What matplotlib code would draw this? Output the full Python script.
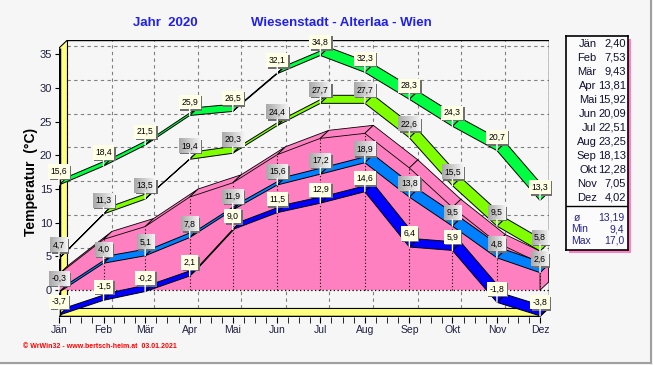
"""Jahresübersicht Temperatur - Wiesenstadt Alterlaa 2020 (3D-Bänder im WeWin32-Stil)"""

import numpy as np
import matplotlib.pyplot as plt
from matplotlib.patches import Polygon, Rectangle
from matplotlib.lines import Line2D

plt.rcParams['font.family'] = ['Liberation Sans', 'DejaVu Sans']

months = ['Jän', 'Feb', 'Mär', 'Apr', 'Mai', 'Jun', 'Jul', 'Aug', 'Sep', 'Okt', 'Nov', 'Dez']
days_in_month = [31, 29, 31, 30, 31, 30, 31, 31, 30, 31, 30, 31]

abs_max = [15.6, 18.4, 21.5, 25.9, 26.5, 32.1, 34.8, 32.3, 28.3, 24.3, 20.7, 13.3]
mean_max = [4.7, 11.3, 13.5, 19.4, 20.3, 24.4, 27.7, 27.7, 22.6, 15.5, 9.5, 5.8]
mean_temp = [2.40, 7.53, 9.43, 13.81, 15.92, 20.09, 22.51, 23.25, 18.13, 12.28, 7.05, 4.02]
mean_min = [-0.3, 4.0, 5.1, 7.8, 11.9, 15.6, 17.2, 18.9, 13.8, 9.5, 4.8, 2.6]
abs_min = [-3.7, -1.5, -0.2, 2.1, 9.0, 11.5, 12.9, 14.6, 6.4, 5.9, -1.8, -3.8]

stat_names = ['ø', 'Min', 'Max']
stat_values = [13.19, 9.4, 17.0]
stat_decimals = [2, 1, 1]

BG = '#f6f6f6'
W, H = 653, 365


def de(v, nd=1):
    return f'{v:.{nd}f}'.replace('.', ',')


def px_rect(l, t, r, b):
    return [l / W, 1 - b / H, (r - l) / W, (b - t) / H]


fig = plt.figure(figsize=(W / 100, H / 100), dpi=100, facecolor=BG)

x = np.concatenate([[0], np.cumsum(days_in_month)[:-1]])
x_end = x[-1]
DX, DY = 5.9, 1.19      # 3D-Tiefe (Tage, Grad)
Y0, Y1 = -3.9, 35.9

ax = fig.add_axes(px_rect(59, 40, 548.5, 316.5))
ax.set_facecolor('none')
for s in ax.spines.values():
    s.set_visible(False)

# Rückwand-Gitter
grid = dict(color='#808080', lw=0.8, ls=(0, (3, 3)), zorder=1)
for v in range(0, 36, 5):
    ax.plot([DX, x_end + DX], [v + DY, v + DY], **grid)
    ax.plot([0, DX], [v, v + DY], **grid)
for xi in x:
    ax.plot([xi + DX, xi + DX], [Y0 + DY, Y1 + DY], **grid)
ax.plot([DX, x_end + DX, x_end + DX], [Y1 + DY, Y1 + DY, Y0 + DY], c='k', lw=1, zorder=2)

# linke Wand und Boden
ax.add_patch(Polygon([(0, Y0), (DX, Y0 + DY), (DX, Y1 + DY), (0, Y1)],
                     fc='#ffff80', ec='k', lw=0.8, zorder=1.5))
ax.add_patch(Polygon([(0, Y0), (x_end, Y0), (x_end + DX, Y0 + DY), (DX, Y0 + DY)],
                     fc='#ffff80', ec='k', lw=0.8, zorder=1.5))
ax.plot([0, 0], [Y0, Y1], c='k', lw=2.5, zorder=2, solid_capstyle='butt')
ax.plot([0, x_end], [Y0, Y0], c='k', lw=2.5, zorder=2, solid_capstyle='butt')

# Mitteltemperatur als 3D-Fläche
front = [(xi, m) for xi, m in zip(x, mean_temp)] + [(x_end, 0), (0, 0)]
ax.add_patch(Polygon(front, fc='#ff80c0', ec='none', zorder=3))
for i in range(len(x) - 1):
    ax.add_patch(Polygon([(x[i], mean_temp[i]), (x[i + 1], mean_temp[i + 1]),
                          (x[i + 1] + DX, mean_temp[i + 1] + DY), (x[i] + DX, mean_temp[i] + DY)],
                         fc='#ff80c0', ec='k', lw=0.6, zorder=3))
ax.add_patch(Polygon([(x_end, 0), (x_end, mean_temp[-1]), (x_end + DX, mean_temp[-1] + DY),
                      (x_end + DX, DY)], fc='#ff80c0', ec='k', lw=0.6, zorder=3))
for xi, m in zip(x, mean_temp):
    ax.plot([xi, xi], [0, m], c='k', lw=0.8, ls=(0, (1, 2)), zorder=3.5)
ax.plot([DX, x_end + DX], [0, 0], c='k', lw=0.9, ls=(0, (1, 2)), zorder=3.5)


def ribbon(vals, color, z):
    for i in range(len(vals) - 1):
        pts = [(x[i], vals[i]), (x[i + 1], vals[i + 1]),
               (x[i + 1] + DX, vals[i + 1] + DY), (x[i] + DX, vals[i] + DY)]
        ax.add_patch(Polygon(pts, fc=color, ec='k', lw=0.7, zorder=z))


ribbon(abs_max, '#00ff40', 4)
ribbon(mean_max, '#80ff00', 4.1)
ribbon(mean_min, '#0080ff', 4.2)
ribbon(abs_min, '#0000ff', 4.3)

ax.set_xlim(0, x_end + DX)
ax.set_ylim(Y0, Y1 + DY)

# Werte-Etiketten
labels = []
for series, gray in [(abs_max, False), (mean_max, True), (mean_min, True), (abs_min, False)]:
    for xi, v in zip(x, series):
        a = ax.annotate(de(v), xy=(xi, v), xytext=(0, 9), textcoords='offset pixels',
                        ha='center', va='bottom', fontsize=6.2, color='k',
                        bbox=dict(boxstyle='square,pad=0.3', fc='#ffffe6', ec='none'),
                        arrowprops=dict(arrowstyle='-', color='white', lw=1,
                                        shrinkA=0, shrinkB=0),
                        zorder=10)
        labels.append((a, gray))

fig.canvas.draw()
inv = ax.transData.inverted()
ramp = np.linspace(0, 1, 64)[None, :]
for a, gray in labels:
    bb = a.get_bbox_patch().get_window_extent()
    (x0, y0), (x1, y1) = inv.transform([(bb.x0, bb.y0), (bb.x1, bb.y1)])
    (sx0, sy0), (sx1, sy1) = inv.transform([(bb.x0 + 1.5, bb.y0 - 1.5), (bb.x1 + 1.5, bb.y1 - 1.5)])
    ax.add_patch(Rectangle((sx0, sy0), sx1 - sx0, sy1 - sy0, fc='#707070', ec='none',
                           zorder=9.8, clip_on=False))
    if gray:
        a.get_bbox_patch().set_facecolor('none')
        ax.imshow(ramp, cmap='gray', vmin=-2.2, vmax=1.13, extent=(x0, x1, y0, y1),
                  aspect='auto', zorder=9.9, clip_on=False, interpolation='bilinear')

ax.set_xlim(0, x_end + DX)
ax.set_ylim(Y0, Y1 + DY)

# Achsen
ax.set_yticks(range(0, 36, 5))
ax.set_xticks(x)
ax.set_xticklabels(months)
minor = [xi + k * d / 4 for xi, d in zip(x, days_in_month) for k in (1, 2, 3)]
ax.set_xticks([m for m in minor if m < x_end], minor=True)
ax.tick_params(axis='y', direction='out', length=3, pad=2, labelsize=8, labelcolor='#202040')
ax.tick_params(axis='x', which='both', direction='out', length=4, pad=2,
               labelsize=7.5, labelcolor='#202040')

fig.text(31 / W, 1 - 182 / H, 'Temperatur  (°C)', rotation=90, ha='center', va='center',
         fontsize=10, fontweight='bold')

# Titel
title_kw = dict(ha='center', va='center', color='#2020ee', fontsize=9.5, fontweight='bold')
fig.text(165 / W, 1 - 23 / H, 'Jahr  2020', **title_kw)
fig.text(341.5 / W, 1 - 23 / H, 'Wiesenstadt - Alterlaa - Wien', **title_kw)

# Monatsmittel-Kasten rechts
fig.patches.append(Rectangle((569 / W, 1 - 253 / H), 62 / W, 214 / H, transform=fig.transFigure,
                             fc='#ff80c0', ec='none', zorder=-1))
lax = fig.add_axes(px_rect(566, 36, 628, 250))
lax.set_xlim(566, 628)
lax.set_ylim(250, 36)
lax.set_facecolor('#fbfbfb')
lax.set_xticks([])
lax.set_yticks([])
for s in lax.spines.values():
    s.set_linewidth(1.2)
for i, (mn, v) in enumerate(zip(months, mean_temp)):
    yy = 44 + 14 * i
    lax.text(596.5, yy, mn, ha='right', va='center', fontsize=8, color='#101030')
    lax.text(626, yy, de(v, 2), ha='right', va='center', fontsize=8, color='#101030')
lax.plot([566, 628], [206, 206], c='k', lw=1)
for i, (nm, v, nd) in enumerate(zip(stat_names, stat_values, stat_decimals)):
    yy = 218 + 11.5 * i
    lax.text(574 if nm == 'ø' else 571, yy, nm, ha='left', va='center', fontsize=7.5, color='#24248c')
    lax.text(624, yy, de(v, nd), ha='right', va='center', fontsize=7.5, color='#24248c')

# Fußzeile und Rahmen
fig.text(23 / W, 1 - 347 / H, '© WrWin32 - www.bertsch-heim.at  03.01.2021', ha='left',
         va='center', fontsize=5.0, fontweight='bold', color='#ff0000')
fig.add_artist(Line2D([650.5 / W, 650.5 / W], [1 - 363 / H, 1], transform=fig.transFigure,
                      color='#a0a0a0', lw=1.5))
fig.add_artist(Line2D([0, 650.5 / W], [1 - 363 / H, 1 - 363 / H], transform=fig.transFigure,
                      color='#a0a0a0', lw=1.5))

fig.savefig('out.png', dpi=100, facecolor=BG)
